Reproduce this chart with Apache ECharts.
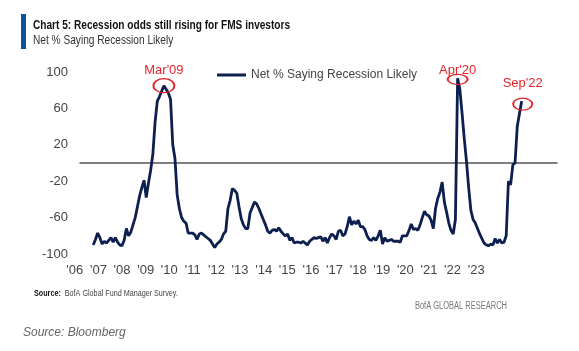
<!DOCTYPE html>
<html>
<head>
<meta charset="utf-8">
<script src="https://cdn.jsdelivr.net/npm/echarts@6/dist/echarts.min.js"></script>
<style>
  html, body { margin: 0; padding: 0; background: #fff; }
  #chart { width: 579px; height: 351px; }
</style>
</head>
<body>
<div id="chart"></div>
<script>
const SANS = "'Liberation Sans', Arial, sans-serif";
const RED = '#e3242b';

const startYear = 2006;
const startMonth = 7;

// monthly net % saying recession likely, Jul 2006 .. Sep 2022
const values = [
  -90, -84, -77, -82, -89, -86,                                   // 2006 H2
  -88, -85, -82, -87, -82, -87, -90, -91, -85, -72, -80, -76,     // 2007
  -68, -60, -48, -36, -27, -19, -38, -22, -8, 10, 45, 68,         // 2008
  73, 79, 85, 81, 77, 70, 20, 5, -35, -50, -60, -64,              // 2009
  -66, -77, -77, -77, -79, -84, -78, -77, -79, -81, -83, -85,     // 2010
  -89, -93, -89, -87, -84, -78, -75, -50, -41, -28, -30, -33,     // 2011
  -48, -61, -68, -72, -72, -55, -49, -43, -45, -50, -56, -62,     // 2012
  -68, -75, -77, -74, -73, -75, -71, -75, -78, -80, -78, -85,     // 2013
  -82, -88, -87, -87, -88, -86, -88, -90, -86, -84, -82, -83,     // 2014
  -82, -81, -86, -82, -88, -82, -78, -80, -84, -75, -74, -80,     // 2015
  -78, -70, -59, -68, -64, -67, -63, -70, -70, -73, -80, -84,     // 2016
  -85, -82, -85, -80, -74, -89, -82, -86, -85, -84, -86, -86,     // 2017
  -86, -87, -80, -80, -80, -74, -67, -73, -72, -74, -68, -60,     // 2018
  -53, -57, -58, -63, -72, -50, -39, -32, -21, -43, -54, -66,     // 2019
  -74, -78, -62, 93, 81, 55, 27, 2, -27, -52, -62, -66,           // 2020
  -72, -78, -83, -88, -90, -91, -89, -90, -83, -88, -84, -88,     // 2021
  -87, -80, -20, -24, -2, 0, 40, 54, 68                           // 2022
];

const yearLabels = ["'06", "'07", "'08", "'09", "'10", "'11", "'12", "'13", "'14",
  "'15", "'16", "'17", "'18", "'19", "'20", "'21", "'22", "'23"];

const peakMonths = ['2009-03', '2020-04', '2022-09'];
const peakNames = ["Mar'09", "Apr'20", "Sep'22"];

const months = values.map((_, i) => {
  const m = startMonth - 1 + i;
  return (startYear + Math.floor(m / 12)) + '-' + String(m % 12 + 1).padStart(2, '0');
});
function toYear(s) {
  const [y, m] = s.split('-').map(Number);
  return y + (m - 1) / 12;
}
const seriesData = months.map((m, i) => [toYear(m), values[i]]);

// ellipse size / offset / label gap for each highlighted peak
const peakStyle = [
  { size: [21, 14], offset: [0, 0], dist: 1 },
  { size: [20, 10], offset: [0, 1], dist: -3 },
  { size: [19, 12], offset: [1, 3], dist: 8 }
];
const peakData = peakMonths.map((m, i) => ({
  coord: [toYear(m), values[months.indexOf(m)]],
  symbolSize: peakStyle[i].size,
  symbolOffset: peakStyle[i].offset,
  label: { formatter: peakNames[i], distance: peakStyle[i].dist }
}));

// condensed-looking text: plain sans squeezed horizontally
function narrowText(x, y, text, font, fill, sx, align) {
  return {
    type: 'text', x: x, y: y, scaleX: sx,
    style: { text: text, x: 0, y: 0, font: font, fill: fill,
      textAlign: align || 'left', textVerticalAlign: 'middle' }
  };
}

const chart = echarts.init(document.getElementById('chart'));
chart.setOption({
  animation: false,
  backgroundColor: '#fff',
  grid: [
    { left: 80, right: 22, top: 72, bottom: 97 },
    { left: 63, right: 91, top: 72, bottom: 97 }
  ],
  xAxis: [
    {
      type: 'value', gridIndex: 0, min: 2006, max: 2024,
      axisLine: { show: true, onZero: true, lineStyle: { color: '#555', width: 1.5 } },
      axisTick: { show: false }, axisLabel: { show: false }, splitLine: { show: false }
    },
    {
      type: 'category', gridIndex: 1, data: yearLabels, boundaryGap: true,
      axisLine: { show: false }, axisTick: { show: false }, splitLine: { show: false },
      axisLabel: { color: '#444', fontSize: 13, fontFamily: SANS, margin: 10, interval: 0 }
    }
  ],
  yAxis: [
    {
      type: 'value', gridIndex: 0, min: -100, max: 100, interval: 40,
      axisLine: { show: false }, axisTick: { show: false }, splitLine: { show: false },
      axisLabel: { color: '#444', fontSize: 13, fontFamily: SANS, margin: 12 }
    },
    { type: 'value', gridIndex: 1, show: false }
  ],
  legend: {
    left: 217, top: 69, padding: 0,
    icon: 'rect', itemWidth: 29, itemHeight: 3, itemGap: 0,
    textStyle: { color: '#444', fontSize: 12, fontFamily: SANS }
  },
  series: [{
    name: 'Net % Saying Recession Likely',
    type: 'line',
    xAxisIndex: 0, yAxisIndex: 0,
    data: seriesData,
    showSymbol: false,
    color: '#0d1f4f',
    lineStyle: { color: '#0d1f4f', width: 2.8 },
    markPoint: {
      symbol: 'circle',
      itemStyle: { color: 'rgba(0,0,0,0)', borderColor: RED, borderWidth: 1.5 },
      label: { show: true, position: 'top', color: RED, fontSize: 13, fontFamily: SANS },
      data: peakData
    }
  }],
  graphic: [
    { type: 'rect', shape: { x: 21, y: 14, width: 5, height: 35 }, style: { fill: '#0b54a4' } },
    narrowText(33, 25, 'Chart 5: Recession odds still rising for FMS investors',
      'bold 13px ' + SANS, '#111', 0.777),
    narrowText(33, 40, 'Net % Saying Recession Likely', '13px ' + SANS, '#333', 0.78),
    {
      type: 'text', x: 34, y: 294, scaleX: 0.8,
      style: {
        text: '{b|Source:}  BofA Global Fund Manager Survey.',
        x: 0, y: 0, textVerticalAlign: 'middle',
        fill: '#444', font: '9px ' + SANS,
        rich: { b: { fontWeight: 'bold', fontSize: 9, fontFamily: SANS, fill: '#111' } }
      }
    },
    narrowText(507, 306, 'BofA GLOBAL RESEARCH', '10px ' + SANS, '#777', 0.75, 'right'),
    narrowText(23, 333, 'Source: Bloomberg', 'italic 12px ' + SANS, '#666', 1)
  ]
});
</script>
</body>
</html>
